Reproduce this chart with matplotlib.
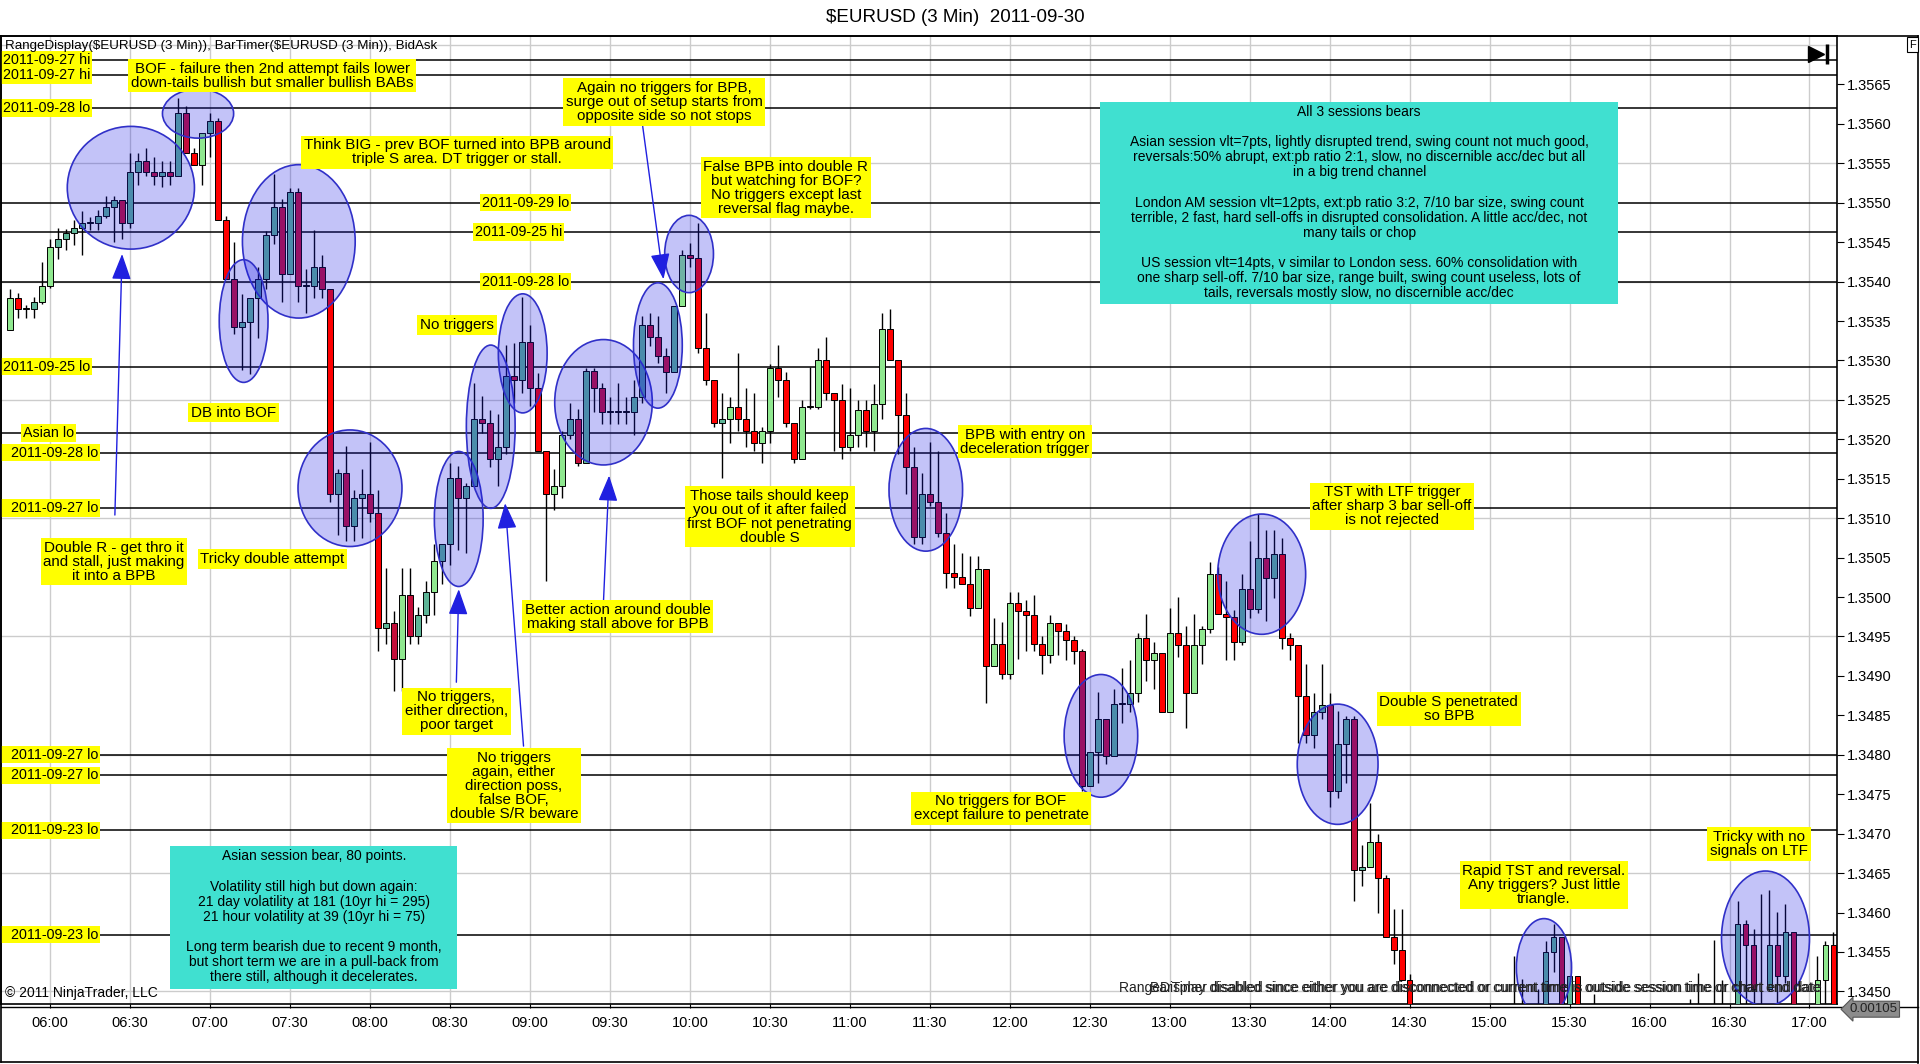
import numpy as np
import matplotlib
matplotlib.use("Agg")
import matplotlib.pyplot as plt
from matplotlib.patches import Ellipse, Rectangle
from matplotlib.lines import Line2D

plt.rcParams['font.family'] = ['Liberation Sans', 'DejaVu Sans']

# 3 min bars, x = bar number counted from 06:00, first bar is 05:45
first_bar = -5

opens = [
    1.35339, 1.35379, 1.35365, 1.35365, 1.35374, 1.35394, 1.35444, 1.35454, 1.35461, 1.35468,  # 05:45
    1.35474, 1.35474, 1.35483, 1.35494, 1.35504, 1.35474, 1.35539, 1.35553, 1.35539, 1.35534,  # 06:15
    1.35539, 1.35534, 1.35614, 1.35563, 1.35548, 1.35589, 1.35603, 1.35478, 1.35403, 1.35343,  # 06:45
    1.35349, 1.35379, 1.35403, 1.35459, 1.35494, 1.35409, 1.35514, 1.35394, 1.35395, 1.35419,  # 07:15
    1.35390, 1.35131, 1.35157, 1.35090, 1.35126, 1.35131, 1.35106, 1.34961, 1.34967, 1.34922,  # 07:45
    1.35002, 1.34951, 1.34977, 1.35006, 1.35046, 1.35067, 1.35151, 1.35126, 1.35141, 1.35226,  # 08:15
    1.35221, 1.35175, 1.35190, 1.35280, 1.35275, 1.35324, 1.35265, 1.35185, 1.35131, 1.35141,  # 08:45
    1.35206, 1.35226, 1.35170, 1.35286, 1.35265, 1.35235, 1.35235, 1.35235, 1.35235, 1.35254,  # 09:15
    1.35345, 1.35330, 1.35306, 1.35285, 1.35369, 1.35434, 1.35430, 1.35316, 1.35275, 1.35221,  # 09:45
    1.35226, 1.35241, 1.35226, 1.35210, 1.35195, 1.35210, 1.35290, 1.35275, 1.35221, 1.35175,  # 10:15
    1.35241, 1.35241, 1.35300, 1.35259, 1.35250, 1.35190, 1.35205, 1.35237, 1.35210, 1.35245,  # 10:45
    1.35340, 1.35300, 1.35231, 1.35165, 1.35076, 1.35131, 1.35120, 1.35081, 1.35031, 1.35026,  # 11:15
    1.35016, 1.34986, 1.35036, 1.34912, 1.34941, 1.34902, 1.34992, 1.34982, 1.34977, 1.34941,  # 11:45
    1.34927, 1.34967, 1.34957, 1.34946, 1.34932, 1.34760, 1.34804, 1.34845, 1.34799, 1.34864,  # 12:15
    1.34865, 1.34878, 1.34948, 1.34920, 1.34929, 1.34854, 1.34954, 1.34939, 1.34878, 1.34939,  # 12:45
    1.34959, 1.35029, 1.34979, 1.34975, 1.34943, 1.35010, 1.34985, 1.35049, 1.35024, 1.35054,  # 13:15
    1.34948, 1.34939, 1.34874, 1.34825, 1.34854, 1.34863, 1.34754, 1.34814, 1.34845, 1.34654,  # 13:45
    1.34658, 1.34690, 1.34644, 1.34569, 1.34553, 1.34514, None, None, None, None,  # 14:15
    None, None, None, None, None, None, None, None, 1.34460, 1.34460,  # 14:45
    None, 1.34460, 1.34460, 1.34550, 1.34569, 1.34460, 1.34519, None, 1.34460, None,  # 15:15
    None, None, None, None, None, None, None, None, None, None,  # 15:45
    1.34460, 1.34460, None, 1.34460, 1.34460, None, 1.34460, 1.34585, 1.34559, 1.34460,  # 16:15
    1.34503, 1.34559, 1.34519, 1.34575, None, None, 1.34460, 1.34514, 1.34559,  # 16:45
]
highs = [
    1.35390, 1.35385, 1.35370, 1.35380, 1.35425, 1.35454, 1.35468, 1.35467, 1.35478, 1.35489,
    1.35482, 1.35491, 1.35509, 1.35509, 1.35504, 1.35563, 1.35563, 1.35569, 1.35558, 1.35553,
    1.35553, 1.35633, 1.35623, 1.35570, 1.35589, 1.35614, 1.35608, 1.35483, 1.35450, 1.35384,
    1.35379, 1.35419, 1.35464, 1.35536, 1.35505, 1.35519, 1.35519, 1.35416, 1.35465, 1.35434,
    1.35390, 1.35162, 1.35191, 1.35136, 1.35162, 1.35196, 1.35136, 1.35037, 1.34982, 1.35037,
    1.35037, 1.34988, 1.35020, 1.35067, 1.35067, 1.35170, 1.35166, 1.35145, 1.35272, 1.35255,
    1.35237, 1.35232, 1.35320, 1.35322, 1.35381, 1.35345, 1.35284, 1.35185, 1.35162, 1.35210,
    1.35246, 1.35239, 1.35290, 1.35290, 1.35271, 1.35254, 1.35271, 1.35254, 1.35275, 1.35356,
    1.35360, 1.35356, 1.35316, 1.35369, 1.35440, 1.35449, 1.35474, 1.35360, 1.35275, 1.35259,
    1.35254, 1.35310, 1.35265, 1.35259, 1.35216, 1.35296, 1.35320, 1.35285, 1.35221, 1.35250,
    1.35292, 1.35316, 1.35330, 1.35259, 1.35270, 1.35265, 1.35250, 1.35250, 1.35270, 1.35360,
    1.35365, 1.35300, 1.35259, 1.35190, 1.35157, 1.35196, 1.35185, 1.35106, 1.35067, 1.35056,
    1.35052, 1.35052, 1.35036, 1.34973, 1.34968, 1.35006, 1.35006, 1.34996, 1.35002, 1.34951,
    1.34977, 1.34967, 1.34966, 1.34951, 1.34934, 1.34804, 1.34880, 1.34845, 1.34884, 1.34910,
    1.34920, 1.34954, 1.34979, 1.34943, 1.34929, 1.34986, 1.35000, 1.34963, 1.34979, 1.34963,
    1.35044, 1.35038, 1.35020, 1.34983, 1.35029, 1.35071, 1.35105, 1.35085, 1.35085, 1.35075,
    1.34954, 1.34939, 1.34915, 1.34878, 1.34915, 1.34878, 1.34855, 1.34849, 1.34849, 1.34685,
    1.34739, 1.34700, 1.34648, 1.34605, 1.34605, 1.34522, None, None, None, None,
    None, None, None, None, None, None, None, None, 1.34545, 1.34516,
    None, 1.34503, 1.34564, 1.34585, 1.34569, 1.34519, 1.34519, None, 1.34497, None,
    None, None, None, None, None, None, None, None, None, None,
    1.34490, 1.34523, None, 1.34565, 1.34515, None, 1.34615, 1.34590, 1.34579, 1.34623,
    1.34629, 1.34601, 1.34611, 1.34575, None, None, 1.34545, 1.34564, 1.34575,
]
lows = [
    1.35339, 1.35354, 1.35354, 1.35354, 1.35372, 1.35392, 1.35429, 1.35440, 1.35446, 1.35434,
    1.35465, 1.35465, 1.35481, 1.35450, 1.35454, 1.35468, 1.35523, 1.35534, 1.35523, 1.35520,
    1.35523, 1.35534, 1.35563, 1.35548, 1.35523, 1.35558, 1.35478, 1.35403, 1.35334, 1.35288,
    1.35283, 1.35328, 1.35390, 1.35448, 1.35374, 1.35409, 1.35374, 1.35360, 1.35379, 1.35379,
    1.35120, 1.35079, 1.35071, 1.35071, 1.35075, 1.35095, 1.34932, 1.34940, 1.34881, 1.34881,
    1.34940, 1.34940, 1.34967, 1.34977, 1.35016, 1.35041, 1.35060, 1.35056, 1.35141, 1.35208,
    1.35165, 1.35141, 1.35181, 1.35246, 1.35259, 1.35242, 1.35185, 1.35020, 1.35110, 1.35126,
    1.35200, 1.35166, 1.35170, 1.35235, 1.35220, 1.35220, 1.35220, 1.35220, 1.35206, 1.35246,
    1.35318, 1.35297, 1.35259, 1.35285, 1.35369, 1.35419, 1.35310, 1.35269, 1.35216, 1.35151,
    1.35195, 1.35210, 1.35190, 1.35185, 1.35170, 1.35195, 1.35254, 1.35216, 1.35170, 1.35175,
    1.35238, 1.35238, 1.35250, 1.35185, 1.35175, 1.35185, 1.35190, 1.35190, 1.35185, 1.35226,
    1.35300, 1.35181, 1.35131, 1.35067, 1.35067, 1.35115, 1.35076, 1.35012, 1.35012, 1.35016,
    1.34976, 1.34986, 1.34866, 1.34912, 1.34896, 1.34896, 1.34922, 1.34931, 1.34931, 1.34902,
    1.34917, 1.34927, 1.34920, 1.34915, 1.34754, 1.34760, 1.34764, 1.34788, 1.34799, 1.34840,
    1.34854, 1.34867, 1.34893, 1.34884, 1.34854, 1.34854, 1.34924, 1.34834, 1.34878, 1.34915,
    1.34954, 1.34979, 1.34920, 1.34920, 1.34939, 1.34974, 1.34980, 1.34969, 1.34999, 1.34934,
    1.34920, 1.34815, 1.34815, 1.34809, 1.34845, 1.34734, 1.34745, 1.34764, 1.34614, 1.34633,
    1.34658, 1.34599, 1.34569, 1.34535, 1.34514, 1.34470, None, None, None, None,
    None, None, None, None, None, None, None, None, 1.34430, 1.34430,
    None, 1.34430, 1.34430, 1.34525, 1.34430, 1.34430, 1.34430, None, 1.34430, None,
    None, None, None, None, None, None, None, None, None, None,
    1.34430, 1.34430, None, 1.34430, 1.34430, None, 1.34430, 1.34430, 1.34430, 1.34430,
    1.34503, 1.34430, 1.34510, 1.34430, None, None, 1.34430, 1.34430, 1.34430,
]
closes = [
    1.35379, 1.35365, 1.35366, 1.35374, 1.35394, 1.35444, 1.35454, 1.35461, 1.35468, 1.35474,
    1.35475, 1.35483, 1.35494, 1.35504, 1.35474, 1.35539, 1.35553, 1.35539, 1.35534, 1.35539,
    1.35534, 1.35614, 1.35563, 1.35548, 1.35589, 1.35603, 1.35478, 1.35403, 1.35343, 1.35349,
    1.35379, 1.35403, 1.35459, 1.35494, 1.35409, 1.35514, 1.35394, 1.35395, 1.35419, 1.35390,
    1.35131, 1.35157, 1.35090, 1.35126, 1.35131, 1.35106, 1.34961, 1.34967, 1.34922, 1.35002,
    1.34951, 1.34977, 1.35006, 1.35046, 1.35067, 1.35151, 1.35126, 1.35141, 1.35226, 1.35221,
    1.35175, 1.35190, 1.35280, 1.35275, 1.35324, 1.35265, 1.35185, 1.35131, 1.35141, 1.35206,
    1.35226, 1.35170, 1.35286, 1.35265, 1.35235, 1.35236, 1.35236, 1.35236, 1.35254, 1.35345,
    1.35330, 1.35306, 1.35285, 1.35369, 1.35434, 1.35430, 1.35316, 1.35275, 1.35221, 1.35226,
    1.35241, 1.35226, 1.35210, 1.35195, 1.35210, 1.35290, 1.35275, 1.35221, 1.35175, 1.35241,
    1.35242, 1.35300, 1.35259, 1.35250, 1.35190, 1.35205, 1.35237, 1.35210, 1.35245, 1.35340,
    1.35300, 1.35231, 1.35165, 1.35076, 1.35131, 1.35120, 1.35081, 1.35031, 1.35026, 1.35016,
    1.34986, 1.35036, 1.34912, 1.34941, 1.34902, 1.34992, 1.34982, 1.34977, 1.34941, 1.34927,
    1.34967, 1.34957, 1.34946, 1.34932, 1.34760, 1.34804, 1.34845, 1.34799, 1.34864, 1.34865,
    1.34878, 1.34948, 1.34920, 1.34929, 1.34854, 1.34954, 1.34939, 1.34878, 1.34939, 1.34959,
    1.35029, 1.34979, 1.34975, 1.34943, 1.35010, 1.34985, 1.35049, 1.35024, 1.35054, 1.34948,
    1.34939, 1.34874, 1.34825, 1.34854, 1.34863, 1.34754, 1.34814, 1.34845, 1.34654, 1.34658,
    1.34690, 1.34644, 1.34569, 1.34553, 1.34514, 1.34484, None, None, None, None,
    None, None, None, None, None, None, None, None, 1.34450, 1.34450,
    None, 1.34450, 1.34550, 1.34569, 1.34460, 1.34519, 1.34460, None, 1.34450, None,
    None, None, None, None, None, None, None, None, None, None,
    1.34450, 1.34450, None, 1.34450, 1.34450, None, 1.34585, 1.34559, 1.34503, 1.34450,
    1.34559, 1.34519, 1.34575, 1.34460, None, None, 1.34514, 1.34559, 1.34460,
]
# g light green up, t teal up, r red down, c crimson down, - no bar
tones = ("grttggtttt" "ttttcttcct" "ctcrgtrrct" "ttttctcttc" "rtcttcrtcg"
         "cttgttcttc" "cttctcrrgg" "tctccttttt" "ccctgcrrrt" "grrrggrrrg"
         "ggrrrggrgg" "rrrctccrrr" "rgrgrgrrrr" "grrrcttctt" "tgrgrgrrgg"
         "grrrtctctr" "rrrttcttct" "grrrrr----" "--------rr" "-rttctr-r-"
         "----------" "rr-rr-tccr" "tctc--ggr")

time_labels = ['06:00', '06:30', '07:00', '07:30', '08:00', '08:30', '09:00', '09:30',
               '10:00', '10:30', '11:00', '11:30', '12:00', '12:30', '13:00', '13:30',
               '14:00', '14:30', '15:00', '15:30', '16:00', '16:30', '17:00']

level_names = ['2011-09-27 hi', '2011-09-27 hi', '2011-09-28 lo', '2011-09-29 lo',
               '2011-09-25 hi', '2011-09-28 lo', '2011-09-25 lo', 'Asian lo',
               '  2011-09-28 lo', '  2011-09-27 lo', '  2011-09-27 lo', '  2011-09-27 lo',
               '  2011-09-23 lo', '  2011-09-23 lo']
level_prices = [1.35681, 1.35662, 1.35620, 1.35500, 1.35463, 1.35400, 1.35292, 1.35208,
                1.35183, 1.35113, 1.34800, 1.34774, 1.34704, 1.34572]
level_label_x = [-5.9, -5.9, -5.9, 54.0, 53.1, 54.0, -5.9, -3.4,
                 -5.9, -5.9, -5.9, -5.9, -5.9, -5.9]

notes = [
    ("BOF - failure then 2nd attempt fails lower\ndown-tails bullish but smaller bullish BABs", 27.8, 1.35661),
    ("Think BIG - prev BOF turned into BPB around\ntriple S area. DT trigger or stall.", 50.9, 1.35564),
    ("Again no triggers for BPB,\nsurge out of setup starts from\nopposite side so not stops", 76.8, 1.35628),
    ("False BPB into double R\nbut watching for BOF?\nNo triggers except last\nreversal flag maybe.", 92.0, 1.35519),
    ("No triggers", 50.9, 1.35345),
    ("DB into BOF", 22.9, 1.35234),
    ("Double R - get thro it\nand stall, just making\nit into a BPB", 8.0, 1.35045),
    ("Tricky double attempt", 27.8, 1.35048),
    ("No triggers,\neither direction,\npoor target", 50.8, 1.34855),
    ("No triggers\nagain, either\ndirection poss,\nfalse BOF,\ndouble S/R beware", 58.0, 1.34761),
    ("Better action around double\nmaking stall above for BPB", 71.0, 1.34975),
    ("Those tails should keep\nyou out of it after failed\nfirst BOF not penetrating\ndouble S", 90.0, 1.35102),
    ("BPB with entry on\ndeceleration trigger", 121.9, 1.35197),
    ("TST with LTF trigger\nafter sharp 3 bar sell-off\nis not rejected", 167.8, 1.35115),
    ("Double S penetrated\nso BPB", 174.9, 1.34858),
    ("No triggers for BOF\nexcept failure to penetrate", 118.9, 1.34732),
    ("Rapid TST and reversal.\nAny triggers? Just little\ntriangle.", 186.8, 1.34635),
    ("Tricky with no\nsignals on LTF", 213.7, 1.34687),
]

session_text = ("All 3 sessions bears\n\n"
                "Asian session vlt=7pts, lightly disrupted trend, swing count not much good,\n"
                "reversals:50% abrupt, ext:pb ratio 2:1, slow, no discernible acc/dec but all\n"
                "in a big trend channel\n\n"
                "London AM session vlt=12pts, ext:pb ratio 3:2, 7/10 bar size, swing count\n"
                "terrible, 2 fast, hard sell-offs in disrupted consolidation. A little acc/dec, not\n"
                "many tails or chop\n\n"
                "US session vlt=14pts, v similar to London sess. 60% consolidation with\n"
                "one sharp sell-off. 7/10 bar size, range built, swing count useless, lots of\n"
                "tails, reversals mostly slow, no discernible acc/dec")
asian_text = ("Asian session bear, 80 points.\n\n"
              "Volatility still high but down again:\n"
              "21 day volatility at 181 (10yr hi = 295)\n"
              "21 hour volatility at 39 (10yr hi = 75)\n\n"
              "Long term bearish due to recent 9 month,\n"
              "but short term we are in a pull-back from\n"
              "there still, although it decelerates.")

# ellipses: bar centre, price centre, width in bars, height in price
circles = [(10.1, 1.35519, 15.9, 0.001556), (18.5, 1.35613, 8.9, 0.000622),
           (31.1, 1.35451, 14.1, 0.001945), (24.2, 1.35350, 6.1, 0.001556),
           (37.5, 1.35138, 13.0, 0.001478), (51.1, 1.35099, 6.1, 0.001712),
           (55.1, 1.35216, 6.1, 0.00207), (59.1, 1.35309, 6.1, 0.00151),
           (69.2, 1.35247, 12.2, 0.00159), (76.0, 1.35319, 6.1, 0.00159),
           (79.9, 1.35435, 6.1, 0.00098), (109.5, 1.35136, 9.2, 0.001556),
           (131.4, 1.34824, 9.2, 0.001556), (151.5, 1.35029, 11.0, 0.001525),
           (161.0, 1.34788, 10.1, 0.001525), (186.8, 1.34530, 6.9, 0.001245),
           (214.5, 1.34567, 11.0, 0.001712)]

arrows = [((8.1, 1.35104), (9.0, 1.35435)), ((50.8, 1.34892), (51.1, 1.35010)),
          ((59.2, 1.34811), (56.9, 1.35119)), ((69.2, 1.34995), (69.9, 1.35154)),
          ((74.1, 1.35597), (76.7, 1.35403))]

tone_colors = {'g': '#8FE88F', 't': '#5DB597', 'r': '#FF0000', 'c': '#C40E3A', '-': 'white'}

fig = plt.figure(figsize=(19.2, 10.64), dpi=100)
ax = fig.add_axes([0.0006, 0.0564, 0.956, 0.9102])

x = np.arange(len(opens)) + first_bar
o = np.array(opens, dtype=float)
h = np.array(highs, dtype=float)
l = np.array(lows, dtype=float)
c = np.array(closes, dtype=float)
ok = ~np.isnan(o)
cols = np.array([tone_colors[t] for t in tones])

# grid
for xt in np.arange(0, 221, 10):
    ax.axvline(xt, color='#CCCCCC', lw=1, zorder=0)
for yp in np.arange(1.3450, 1.3571, 0.0015):
    ax.axhline(yp, color='#CCCCCC', lw=1, zorder=0)

# level lines and their labels
for name, price, lx in zip(level_names, level_prices, level_label_x):
    ax.axhline(price, color='black', lw=1.1, zorder=1)
    ax.text(lx, price, name, ha='left', va='center', fontsize=10.3, zorder=7,
            bbox=dict(boxstyle='square,pad=0.12', fc='#FFFF00', ec='none'))

# candles
ax.vlines(x[ok], l[ok], h[ok], color='black', lw=1, zorder=3)
body_lo = np.minimum(o, c)
body_h = np.maximum(np.abs(c - o), 0.000012)
ax.bar(x[ok], body_h[ok], bottom=body_lo[ok], width=0.72, color=cols[ok],
       edgecolor='black', linewidth=0.7, zorder=4)

for cx, cy, w, hh in circles:
    ax.add_patch(Ellipse((cx, cy), w, hh, fc=(0.1, 0.1, 0.9, 0.26), ec='#3030C8',
                         lw=1.2, zorder=5))

for (x0, y0), (x1, y1) in arrows:
    ax.annotate('', xy=(x1, y1), xytext=(x0, y0), zorder=6,
                arrowprops=dict(arrowstyle='-|>,head_length=0.8,head_width=0.3',
                                color='#2020E0', lw=1, mutation_scale=20,
                                shrinkA=0, shrinkB=0))

for text, xb, yp in notes:
    ax.text(xb, yp, text, ha='center', va='center', fontsize=10.9, linespacing=1.0, zorder=7,
            bbox=dict(boxstyle='square,pad=0.18', fc='#FFFF00', ec='none'))

# turquoise comment boxes
ax.add_patch(Rectangle((131.3, 1.35371), 64.8, 0.00257, fc='#40E0D0', ec='none', zorder=7))
ax.text(163.7, 1.35624, session_text, ha='center', va='top', fontsize=10,
        linespacing=1.1, zorder=8)
ax.add_patch(Rectangle((15.0, 1.34503), 35.9, 0.00181, fc='#40E0D0', ec='none', zorder=7))
ax.text(33.0, 1.34680, asian_text, ha='center', va='top', fontsize=10,
        linespacing=1.1, zorder=8)

ax.set_xlim(-6.12, 223.4)
ax.set_ylim(1.34484, 1.35712)
ax.set_xticks(np.arange(0, 221, 10))
ax.set_xticklabels(time_labels)
ax.set_yticks(np.arange(1.3450, 1.35651, 0.0005))
ax.yaxis.set_major_formatter(plt.FormatStrFormatter('%.4f'))
ax.yaxis.tick_right()
ax.tick_params(axis='y', direction='out', length=5, labelsize=10.5, pad=2)
ax.tick_params(axis='x', direction='out', length=3, labelsize=10.5, pad=6)
for s in ax.spines.values():
    s.set_linewidth(1.2)

ax.text(0.002, 0.989, r'RangeDisplay(\$EURUSD (3 Min)), BarTimer(\$EURUSD (3 Min)), BidAsk',
        transform=ax.transAxes, ha='left', va='center', fontsize=9.6, zorder=8)
ax.text(0.002, 0.004, '\u00a9 2011 NinjaTrader, LLC', transform=ax.transAxes,
        ha='left', va='bottom', fontsize=10, zorder=8)
ax.text(0.9913, 0.0165, 'RangeDisplay disabled since either you are disconnected or current '
        'time is outside session time or chart end date', transform=ax.transAxes,
        ha='right', va='center', fontsize=10, color='#222222', zorder=8)
ax.text(0.9918, 0.0165, 'BarTimer disabled since either you are disconnected or current '
        'time is outside session time or chart end date', transform=ax.transAxes,
        ha='right', va='center', fontsize=10, color='#222222', zorder=8)
ax.plot([0.9885], [0.981], marker='>', ms=11, color='black', transform=ax.transAxes,
        clip_on=False, zorder=8)
ax.plot([0.9948], [0.981], marker='|', ms=14, mew=2.5, color='black',
        transform=ax.transAxes, clip_on=False, zorder=8)

fig.text(0.4975, 0.984, r'\$EURUSD (3 Min)  2011-09-30', ha='center', va='center', fontsize=13.5)
fig.text(0.9962, 0.958, 'F', ha='center', va='center', fontsize=8,
         bbox=dict(boxstyle='square,pad=0.2', fc='white', ec='black', lw=0.8))
fig.text(0.9758, 0.0515, '0.00105', ha='center', va='center', fontsize=9.5, color='#222222',
         bbox=dict(boxstyle='larrow,pad=0.15', fc='#8C8C8C', ec='#555555', lw=0.8))

# outer frame
fig.add_artist(Line2D([0, 0.999], [0.9666, 0.9666], color='black', lw=1.2))
fig.add_artist(Line2D([0.999, 0.999], [0.001, 0.9666], color='black', lw=1.2))
fig.add_artist(Line2D([0.0006, 0.999], [0.0015, 0.0015], color='black', lw=1.2))
fig.add_artist(Line2D([0.0006, 0.0006], [0.0015, 0.9666], color='black', lw=1.2))
fig.add_artist(Line2D([0.0006, 0.999], [0.0533, 0.0533], color='black', lw=1))

fig.savefig('out.png', dpi=100)
